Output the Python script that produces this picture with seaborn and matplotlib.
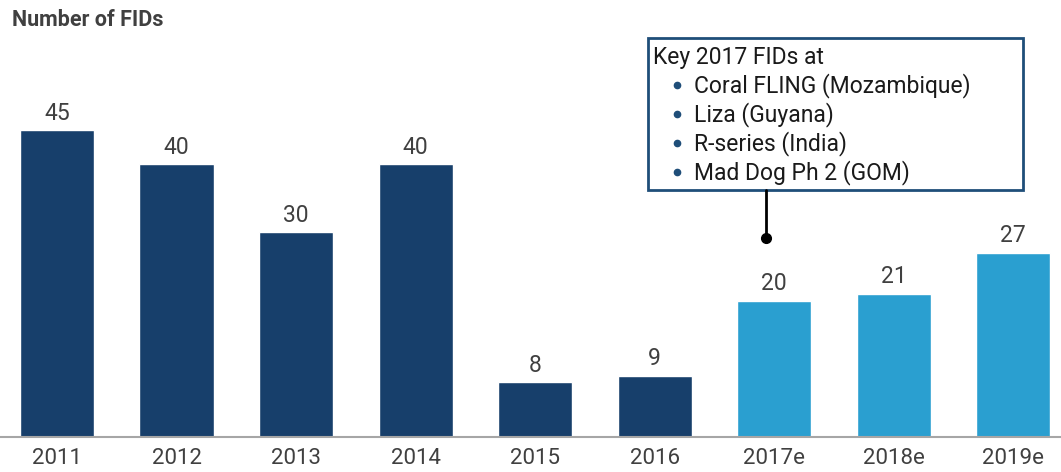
import matplotlib
matplotlib.use("Agg")
import matplotlib.pyplot as plt
import seaborn as sns
import pandas as pd
from matplotlib.patches import Rectangle

years = ["2011", "2012", "2013", "2014", "2015", "2016", "2017e", "2018e", "2019e"]
fids = [45, 40, 30, 40, 8, 9, 20, 21, 27]
kind = ["actual"] * 6 + ["estimate"] * 3
title = "Number of FIDs"
box_head = "Key 2017 FIDs at"
box_items = ["Coral FLING (Mozambique)", "Liza (Guyana)", "R-series (India)", "Mad Dog Ph 2 (GOM)"]

NAVY = "#173F6B"
LIGHT = "#2A9FD0"
TXT = "#404040"

sns.set_theme(style="white")
plt.rcParams["font.family"] = ["Roboto", "DejaVu Sans"]

df = pd.DataFrame({"year": years, "fids": fids, "kind": kind})

fig = plt.figure(figsize=(10.61, 4.72), dpi=100)
ax = fig.add_axes([0, 35 / 472, 1, 437 / 472])
sns.barplot(data=df, x="year", y="fids", hue="kind",
            palette={"actual": NAVY, "estimate": LIGHT},
            dodge=False, width=0.62, legend=False, ax=ax, saturation=1)

ax.set_xlim(-0.477, 8.40)
ax.set_ylim(0, 64.1)
for s in ["top", "right", "left"]:
    ax.spines[s].set_visible(False)
ax.spines["bottom"].set_color("#A6A6A6")
ax.spines["bottom"].set_linewidth(1.5)
ax.set_yticks([])
ax.set_xlabel("")
ax.set_ylabel("")
ax.tick_params(axis="x", length=0, pad=8, labelsize=16, labelcolor=TXT)

for i, v in enumerate(fids):
    ax.text(i, v + 0.8, str(v), ha="center", va="bottom", fontsize=16.5, color=TXT)

fig.text(12 / 1061, 1 - 20 / 472, title, ha="left", va="center",
         fontsize=15.5, fontweight="bold", color=TXT)

# annotation box
bx0, bx1 = 4.946, 8.084
by0, by1 = 36.2, 58.5
ax.add_patch(Rectangle((bx0, by0), bx1 - bx0, by1 - by0, fill=False,
                       edgecolor="#1F4E79", linewidth=2, zorder=5, clip_on=False))
ax.text(4.99, 55.7, box_head, ha="left", va="center", fontsize=16.5, color="#1a1a1a")
for k, item in enumerate(box_items):
    yv = 51.6 - k * 4.25
    ax.plot([5.19], [yv], marker="o", markersize=4.5, color="#1F4E79", zorder=6)
    ax.text(5.33, yv, item, ha="left", va="center", fontsize=16.5, color="#1a1a1a")

ax.plot([5.93, 5.93], [29.2, by0], color="black", linewidth=2, zorder=5)
ax.plot([5.93], [29.2], marker="o", markersize=7, color="black", zorder=6)

fig.savefig("out.png", dpi=100)
